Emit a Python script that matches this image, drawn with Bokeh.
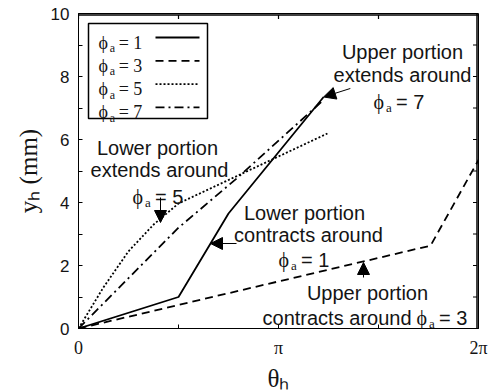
import numpy as np
from bokeh.plotting import figure
from bokeh.models import (Range1d, FixedTicker, Label, Arrow, NormalHead,
                          CustomJSTickFormatter)
from bokeh.embed import file_html
from bokeh.resources import INLINE

PI = np.pi

# Helix angle theta_h (rad) against height y_h (mm), one series per phi_a
theta_a1 = [0.0, PI / 2, 3 * PI / 4, 3.85]
yh_a1 = [0.0, 1.0, 3.65, 7.35]

theta_a3 = [0.0, 5.53, 2 * PI]
yh_a3 = [0.0, 2.63, 5.35]

theta_a5 = [0.0, 0.39, 0.785, 1.18, PI / 2, 3.91]
yh_a5 = [0.0, 1.3, 2.45, 3.3, 3.97, 6.19]

theta_a7 = [0.0, PI / 2, 2.5, 3.82]
yh_a7 = [0.0, 3.2, 4.79, 7.2]

phi_labels = ["1", "3", "5", "7"]
x_tick_labels = ["0", "\u03c0", "2\u03c0"]
x_major = [0.0, PI, 2 * PI]
x_minor = [PI / 2, 3 * PI / 2]
y_major = [0, 2, 4, 6, 8, 10]
y_minor = [1, 3, 5, 7, 9]

# frame geometry in pixels (canvas origin top-left)
FL, FR, FT, FB = 78, 478, 13, 328
XMAX, YMAX = 2 * PI, 10.0


def dx(px):
    return (px - FL) / (FR - FL) * XMAX


def dy(py):
    return (FB - py) / (FB - FT) * YMAX


SANS = "Liberation Sans"
SERIF = "Liberation Serif"
INK = "#141414"
PHI = "\u03d5"
DASHES = [None, "8 5", "2 2", "9 4 2 4"]
TICK = 4  # tick length, px

p = figure(frame_width=FR - FL, frame_height=FB - FT,
           min_border_left=FL, min_border_right=495 - FR,
           min_border_top=FT, min_border_bottom=390 - FB,
           x_range=Range1d(0, XMAX), y_range=Range1d(0, YMAX),
           output_backend="svg", toolbar_location=None)
p.background_fill_color = None
p.border_fill_color = None
p.outline_line_color = "black"
p.xgrid.visible = False
p.ygrid.visible = False

x_ticker = FixedTicker(ticks=x_major, minor_ticks=x_minor)
y_ticker = FixedTicker(ticks=y_major, minor_ticks=y_minor)
pi_fmt = CustomJSTickFormatter(args=dict(labels=x_tick_labels),
                               code="return labels[Math.round(tick / Math.PI)] ?? ''")

for ax in (p.xaxis[0], p.yaxis[0]):
    ax.axis_line_color = "black"
    ax.major_tick_in = TICK
    ax.major_tick_out = 0
    ax.minor_tick_in = TICK
    ax.minor_tick_out = 0
    ax.major_tick_line_color = "black"
    ax.minor_tick_line_color = "black"
    ax.major_label_text_color = INK
    ax.axis_label_text_color = INK
    ax.axis_label_text_font = SERIF
    ax.axis_label_text_font_size = "25px"
    ax.axis_label_text_font_style = "normal"

yax = p.yaxis[0]
yax.ticker = y_ticker
yax.major_label_text_font = SANS
yax.major_label_text_font_size = "17px"
yax.major_label_standoff = 9
yax.axis_label = "y\u2095 (mm)"
yax.axis_label_standoff = 6

xax = p.xaxis[0]
xax.ticker = x_ticker
xax.formatter = pi_fmt
xax.major_label_text_font = SERIF
xax.major_label_text_font_size = "18px"
xax.major_label_standoff = 9
xax.axis_label = "\u03b8\u2095"
xax.axis_label_standoff = 4

# closing box edges (top and right), drawn just inside the frame, with inward ticks
x_edge = XMAX - 1.5 / (FR - FL) * XMAX
y_edge = YMAX - 1.5 / (FB - FT) * YMAX
p.segment(x0=[0, x_edge], y0=[y_edge, 0], x1=[XMAX, x_edge], y1=[y_edge, YMAX],
          line_color="black", line_width=1.5)
top_ticks = x_major + x_minor
p.segment(x0=top_ticks, y0=[y_edge] * len(top_ticks),
          x1=top_ticks, y1=[YMAX - (TICK + 1.5) / (FB - FT) * YMAX] * len(top_ticks),
          line_color="black", line_width=1.2)
right_ticks = y_major + y_minor
p.segment(x0=[x_edge] * len(right_ticks), y0=right_ticks,
          x1=[XMAX - (TICK + 1.5) / (FR - FL) * XMAX] * len(right_ticks), y1=right_ticks,
          line_color="black", line_width=1.2)

# data curves
series = [(theta_a1, yh_a1), (theta_a3, yh_a3), (theta_a5, yh_a5), (theta_a7, yh_a7)]
for (xs, ys), dash in zip(series, DASHES):
    kw = {} if dash is None else {"line_dash": dash}
    p.line(xs, ys, line_color="black", line_width=1.8, **kw)


def txt(px, py, s, size, font=SANS, align="left"):
    p.add_layout(Label(x=dx(px), y=dy(py), text=s, text_font=font,
                       text_font_size=f"{size}px", text_align=align,
                       text_baseline="alphabetic", text_color=INK))


def phi_a(px, py, rest, size, rest_font):
    """phi with subscript a, followed by '= n'."""
    txt(px, py, PHI, size, font=SERIF)
    txt(px + 0.62 * size, py + 0.3 * size, "a", int(size * 0.68), font=SERIF)
    txt(px + 1.12 * size, py, rest, size, font=rest_font)


# legend: box, labels on the left, line samples on the right
p.quad(left=dx(88), right=dx(207), top=dy(23), bottom=dy(118),
       fill_color="white", line_color="black", line_width=1.5)
for i, lab in enumerate(phi_labels):
    base = 42 + 23.3 * i
    phi_a(98, base, "= " + lab, 18, SERIF)
    kw = {} if DASHES[i] is None else {"line_dash": DASHES[i]}
    p.line([dx(155), dx(199)], [dy(base - 5), dy(base - 5)],
           line_color="black", line_width=1.8, **kw)

# callouts
txt(402, 51, "Upper portion", 20, align="center")
txt(402, 74, "extends around", 20, align="center")
phi_a(373, 101, "= 7", 20, SANS)

txt(157, 147, "Lower portion", 20, align="center")
txt(159, 169, "extends around", 20, align="center")
phi_a(132, 196, "= 5", 20, SANS)

txt(304, 212, "Lower portion", 20, align="center")
txt(308, 234, "contracts around", 20, align="center")
phi_a(278, 259, "= 1", 20, SANS)

txt(367, 292, "Upper portion", 20, align="center")
txt(411, 317, "contracts around", 20, align="right")
phi_a(416, 317, "= 3", 20, SANS)

arrows = [((4.27, 7.62), (theta_a1[-1], yh_a1[-1])),
          ((dx(160), dy(197)), (dx(160), dy(222))),
          ((dx(236), dy(243)), (dx(210), dy(243))),
          ((dx(363), dy(277)), (dx(363), dy(262)))]
for (x0, y0), (x1, y1) in arrows:
    p.add_layout(Arrow(end=NormalHead(size=12, fill_color="black", line_color="black"),
                       x_start=x0, y_start=y0, x_end=x1, y_end=y1,
                       line_color="black", line_width=1))

open("out.html", "w").write(file_html(p, INLINE))
